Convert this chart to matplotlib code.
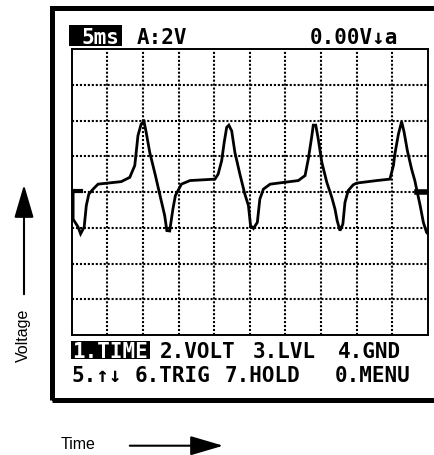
import matplotlib.pyplot as plt
from matplotlib.patches import Rectangle, FancyArrowPatch

W, H = 435, 456


def fx(px):
    return px / W


def fy(py):
    return 1 - py / H


# ----- Screen data (in grid divisions) -----
n_xdiv = 10
n_ydiv = 8

t_div = [0.00, 0.04, 0.04, 0.18, 0.25, 0.35, 0.41, 0.48, 0.60, 0.74, 1.39, 1.63,
         1.77, 1.81, 1.86, 1.95, 2.03, 2.09, 2.19, 2.35, 2.47, 2.61, 2.67, 2.75,
         2.84, 2.91, 3.08, 3.32, 4.02, 4.11, 4.21, 4.28, 4.35, 4.41, 4.49, 4.58,
         4.72, 4.86, 4.96, 5.02, 5.10, 5.21, 5.28, 5.38, 5.57, 6.36, 6.55, 6.64,
         6.74, 6.78, 6.85, 6.92, 7.02, 7.16, 7.30, 7.39, 7.45, 7.53, 7.61, 7.67,
         7.76, 7.90, 8.00, 8.56, 8.93, 9.03, 9.07, 9.17, 9.26, 9.33, 9.42, 9.54,
         9.63, 9.70, 9.78, 9.87, 9.96, 10.00]
v_div = [0.03, 0.03, -0.76, -0.98, -1.17, -0.98, -0.38, -0.06, 0.08, 0.22, 0.29, 0.41,
         0.74, 1.11, 1.58, 1.90, 1.97, 1.67, 1.11, 0.46, -0.06, -0.66, -1.08, -1.09,
         -0.48, -0.10, 0.22, 0.32, 0.36, 0.50, 0.88, 1.39, 1.81, 1.87, 1.71, 1.11,
         0.50, -0.06, -0.38, -0.94, -1.02, -0.85, -0.20, 0.08, 0.22, 0.32, 0.46, 0.92,
         1.57, 1.87, 1.87, 1.48, 0.83, 0.27, -0.15, -0.48, -0.80, -1.08, -0.90, -0.29,
         0.04, 0.20, 0.25, 0.32, 0.36, 0.74, 1.06, 1.62, 1.97, 1.67, 1.16, 0.64,
         0.32, -0.01, -0.38, -0.85, -1.13, -1.17]

# level markers at the screen edges
left_marker_t = [0.0, 0.25]
left_marker_v = [0.03, 0.03]
right_marker_t = [9.70, 10.0]
right_marker_v = [-0.01, -0.01]

# ----- Screen texts -----
time_base = "5ms"
channel = "A:2V"
trigger = "0.00V\u2193a"
menu_row1 = ["1.TIME", "2.VOLT", "3.LVL", "4.GND"]
menu_row2 = ["5.\u2191\u2193", "6.TRIG", "7.HOLD", "0.MENU"]

fig = plt.figure(figsize=(W / 100, H / 100), dpi=100)
mono = dict(family="DejaVu Sans Mono", fontsize=15, fontweight="bold")

# outer screen frame (runs off the right edge)
fig.add_artist(Rectangle((fx(52.5), fy(400.5)), fx(460) - fx(52.5), fy(9.2) - fy(400.5),
                         transform=fig.transFigure, fill=False, ec="black", lw=3.6))

# ----- Scope grid + trace -----
ax = fig.add_axes([fx(71.7), fy(336), fx(428) - fx(71.7), fy(50) - fy(336)])
ax.set_xlim(0, n_xdiv)
ax.set_ylim(-n_ydiv / 2, n_ydiv / 2)
ax.set_xticks(range(1, n_xdiv))
ax.set_yticks(range(-n_ydiv // 2 + 1, n_ydiv // 2))
ax.tick_params(length=0, labelbottom=False, labelleft=False)
ax.grid(color="black", linestyle=(0, (1, 0.9)), linewidth=1.5)
for s in ax.spines.values():
    s.set_linewidth(1.4)

ax.plot(t_div, v_div, color="black", lw=2.0, solid_joinstyle="miter")
ax.plot(left_marker_t, left_marker_v, color="black", lw=3)
ax.plot(right_marker_t, right_marker_v, color="black", lw=4)

# ----- Header line -----
fig.add_artist(Rectangle((fx(69.3), fy(46.7)), fx(121.7) - fx(69.3), fy(26) - fy(46.7),
                         transform=fig.transFigure, color="black", lw=0))
fig.text(fx(82), fy(43.5), time_base, color="white", va="baseline", **mono)
fig.text(fx(137), fy(43.5), channel, va="baseline", **mono)
fig.text(fx(310), fy(43.5), trigger, va="baseline", **mono)

# ----- Menu lines -----
fig.add_artist(Rectangle((fx(70.7), fy(360)), fx(150) - fx(70.7), fy(341.7) - fy(360),
                         transform=fig.transFigure, color="black", lw=0))
row1_x = [72, 160, 253, 338]
row2_x = [72, 135, 225, 335]
for i, (label, x) in enumerate(zip(menu_row1, row1_x)):
    fig.text(fx(x), fy(358), label, va="baseline",
             color="white" if i == 0 else "black", **mono)
for label, x in zip(menu_row2, row2_x):
    fig.text(fx(x), fy(382), label, va="baseline", **mono)

# ----- Axis captions with arrows -----
fig.text(fx(23), fy(335), "Voltage", rotation=90, ha="center", va="center",
         fontsize=11.5, family="Liberation Sans")
fig.add_artist(FancyArrowPatch((fx(24), fy(298)), (fx(24), fy(183)), transform=fig.transFigure,
                               arrowstyle="-|>,head_length=1.7,head_width=0.5",
                               mutation_scale=12, lw=1.5, color="black"))
fig.text(fx(61), fy(445), "Time", ha="left", va="center",
         fontsize=11.5, family="Liberation Sans")
fig.add_artist(FancyArrowPatch((fx(127), fy(446.7)), (fx(226), fy(446.7)), transform=fig.transFigure,
                               arrowstyle="-|>,head_length=1.7,head_width=0.5",
                               mutation_scale=12, lw=1.5, color="black"))

fig.savefig("out.png", dpi=100)
